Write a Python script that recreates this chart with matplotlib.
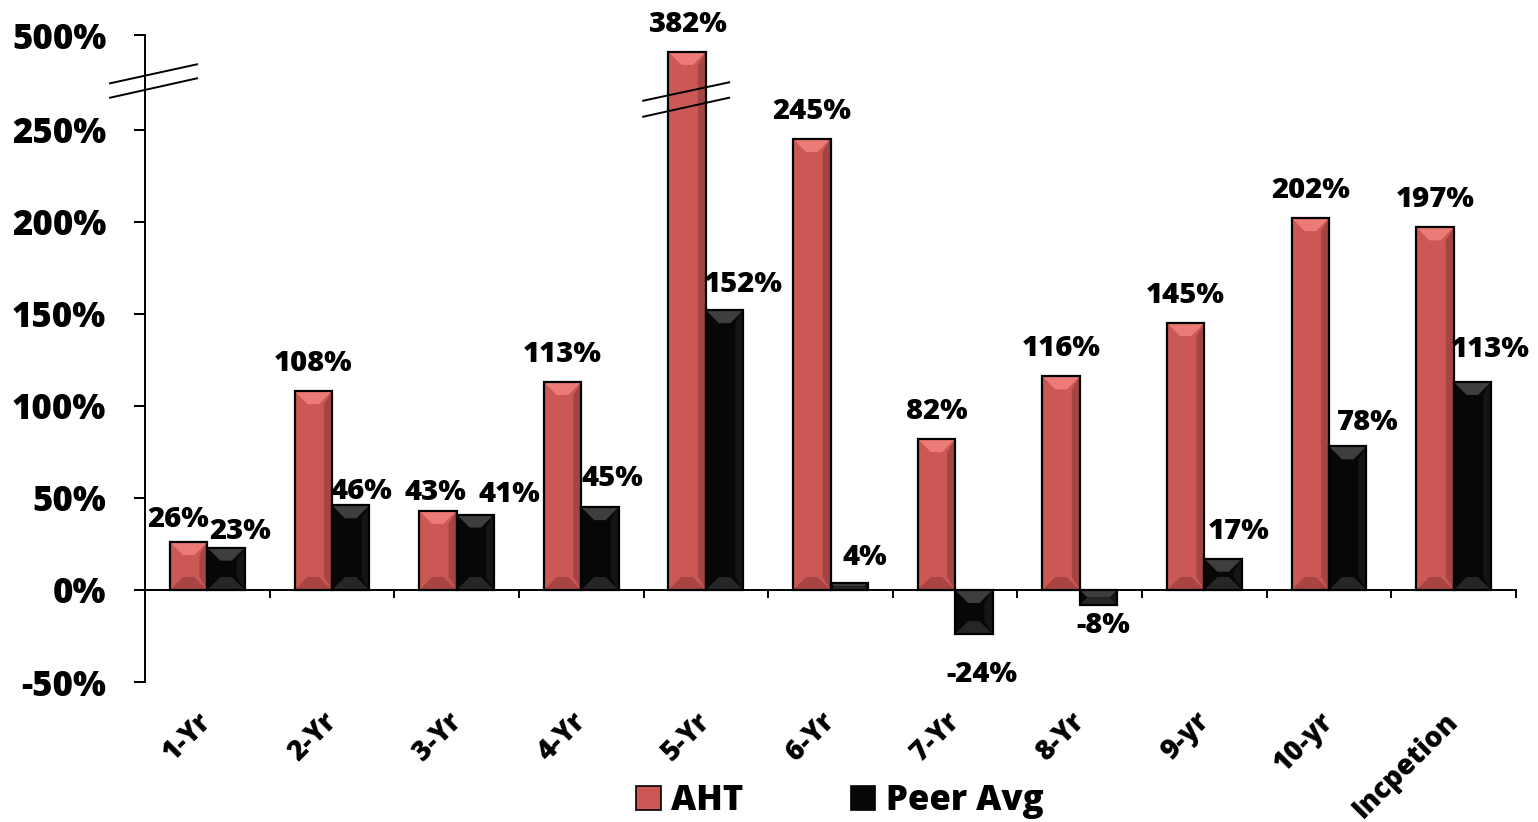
import numpy as np
import matplotlib
matplotlib.use("Agg")
import matplotlib.pyplot as plt
from matplotlib.patches import Patch, Polygon
from matplotlib.lines import Line2D
from matplotlib.transforms import IdentityTransform

categories = ["1-Yr", "2-Yr", "3-Yr", "4-Yr", "5-Yr", "6-Yr", "7-Yr", "8-Yr",
              "9-yr", "10-yr", "Incpetion"]
aht = [26, 108, 43, 113, 382, 245, 82, 116, 145, 202, 197]
peer_avg = [23, 46, 41, 45, 152, 4, -24, -8, 17, 78, 113]
y_ticks = [-50, 0, 50, 100, 150, 200, 250, 500]

plt.rcParams["font.family"] = ["Open Sans", "DejaVu Sans"]
plt.rcParams["font.weight"] = "heavy"

RED = "#CC5855"
BLACK = "#070707"

# broken y axis: linear up to 250%, then squeezed above the break
BREAK_LO = 250.0
UPPER_BASE = 282.0
UPPER_SLOPE = 0.078


def fwd(v):
    v = np.asarray(v, dtype=float)
    return np.where(v <= BREAK_LO, v, UPPER_BASE + (v - BREAK_LO) * UPPER_SLOPE)


def inv(d):
    d = np.asarray(d, dtype=float)
    return np.where(d <= BREAK_LO, d,
                    np.where(d < UPPER_BASE, BREAK_LO,
                             BREAK_LO + (d - UPPER_BASE) / UPPER_SLOPE))


fig = plt.figure(figsize=(15.38, 8.22), dpi=100)
ax = fig.add_axes([0.0943, 0.1703, 0.8914, 0.7871])
ax.set_yscale("function", functions=(fwd, inv))
ax.set_ylim(-50, 500)
ax.set_xlim(-0.5, len(categories) - 0.5)

x = np.arange(len(categories))
w = 0.3
red_bars = ax.bar(x - w / 2, aht, w, color=RED, edgecolor="none", zorder=2)
blk_bars = ax.bar(x + w / 2, peer_avg, w, color=BLACK, edgecolor="none", zorder=2)


def add_bevel(bar, top_c, right_c, bottom_c, depth=13, side=8):
    # bevel faces drawn in pixel space so they keep the same size on every bar
    x0, y0 = ax.transData.transform((bar.get_x(), 0))
    x1, y1 = ax.transData.transform((bar.get_x() + bar.get_width(), bar.get_height()))
    lo, hi = min(y0, y1), max(y0, y1)
    d = min(depth, (hi - lo) / 2)
    s = min(side, d)
    faces = [
        ([(x0, hi), (x1, hi), (x1 - d, hi - d), (x0 + d, hi - d)], top_c),
        ([(x1, hi), (x1, lo), (x1 - s, lo + d), (x1 - s, hi - d)], right_c),
        ([(x0, lo), (x1, lo), (x1 - d, lo + d), (x0 + d, lo + d)], bottom_c),
    ]
    for pts, c in faces:
        ax.add_patch(Polygon(pts, closed=True, facecolor=c, edgecolor="none",
                             transform=IdentityTransform(), zorder=3))


for b in red_bars:
    add_bevel(b, "#EC7A77", "#A54542", "#A84442")
for b in blk_bars:
    add_bevel(b, "#3E3E3E", "#151515", "#262626")

# outlines on top of the bevels
ax.bar(x - w / 2, aht, w, fill=False, edgecolor="black", linewidth=1.6, zorder=4)
ax.bar(x + w / 2, peer_avg, w, fill=False, edgecolor="black", linewidth=1.6, zorder=4)

for s in ("top", "right"):
    ax.spines[s].set_visible(False)
ax.spines["bottom"].set_position(("data", 0))
ax.spines["bottom"].set_linewidth(1.4)
ax.spines["left"].set_linewidth(1.4)

ax.set_yticks(y_ticks)
ax.set_yticklabels([f"{t}%" for t in y_ticks])
ax.yaxis.set_minor_locator(matplotlib.ticker.NullLocator())
ax.tick_params(axis="y", direction="out", length=8, width=1.4, pad=20, labelsize=25)

ax.set_xticks(np.arange(0.5, len(categories)))
ax.set_xticklabels([])
ax.tick_params(axis="x", direction="out", length=6, width=1.4)

px = 0.72  # points per pixel at 100 dpi

for i, name in enumerate(categories):
    ax.annotate(name, xy=(i, 0), xycoords=("data", "axes fraction"),
                xytext=(0, -35 * px), textcoords="offset points",
                rotation=45, rotation_mode="anchor", ha="right", va="center",
                fontsize=20)

# label offsets in pixels (dx, dy)
label_nudge = {
    ("aht", 0): (-10, 15), ("aht", 2): (-3, 11),
    ("peer", 0): (14, 9), ("peer", 1): (11, 6), ("peer", 2): (34, 13),
    ("peer", 3): (12, 21), ("peer", 4): (19, 18), ("peer", 5): (16, 18),
    ("peer", 6): (8, -26), ("peer", 7): (5, -6), ("peer", 8): (16, 20),
    ("peer", 9): (20, 16), ("peer", 10): (18, 25),
}

for key, vals, offs in (("aht", aht, -w / 2), ("peer", peer_avg, w / 2)):
    for i, v in enumerate(vals):
        dx, dy = label_nudge.get((key, i), (0, 20))
        ax.annotate(f"{v}%", xy=(i + offs, v), xytext=(dx * px, dy * px),
                    textcoords="offset points", ha="center",
                    va="baseline" if v >= 0 else "top",
                    fontsize=21, zorder=5)

# break marks on the y axis and on the tall 5-Yr bar
ax_left, ax_top = ax.transAxes.transform((0, 1))
cx = ax.transData.transform((4 - w / 2, 0))[0]
breaks = [
    ((ax_left - 35, ax_left + 52), (ax_top - 48.3, ax_top - 29.3)),
    ((ax_left - 35, ax_left + 52), (ax_top - 62.7, ax_top - 43.3)),
    ((cx - 44, cx + 42), (ax_top - 65.7, ax_top - 47.3)),
    ((cx - 44, cx + 42), (ax_top - 81.7, ax_top - 62.7)),
]
for xs, ys in breaks:
    fig.add_artist(Line2D(xs, ys, color="black", linewidth=1.4,
                          transform=IdentityTransform()))

handles = [Patch(facecolor=RED, edgecolor="black", linewidth=1.2),
           Patch(facecolor=BLACK, edgecolor="black", linewidth=1.2)]
fig.legend(handles, ["AHT", "Peer Avg"], loc="center",
           bbox_to_anchor=(840 / 1538, 0.0255), ncol=2, frameon=False,
           fontsize=25, handlelength=0.7, handleheight=0.7, handletextpad=0.3,
           columnspacing=3.1, borderpad=0)

fig.savefig("out.png", dpi=100)
